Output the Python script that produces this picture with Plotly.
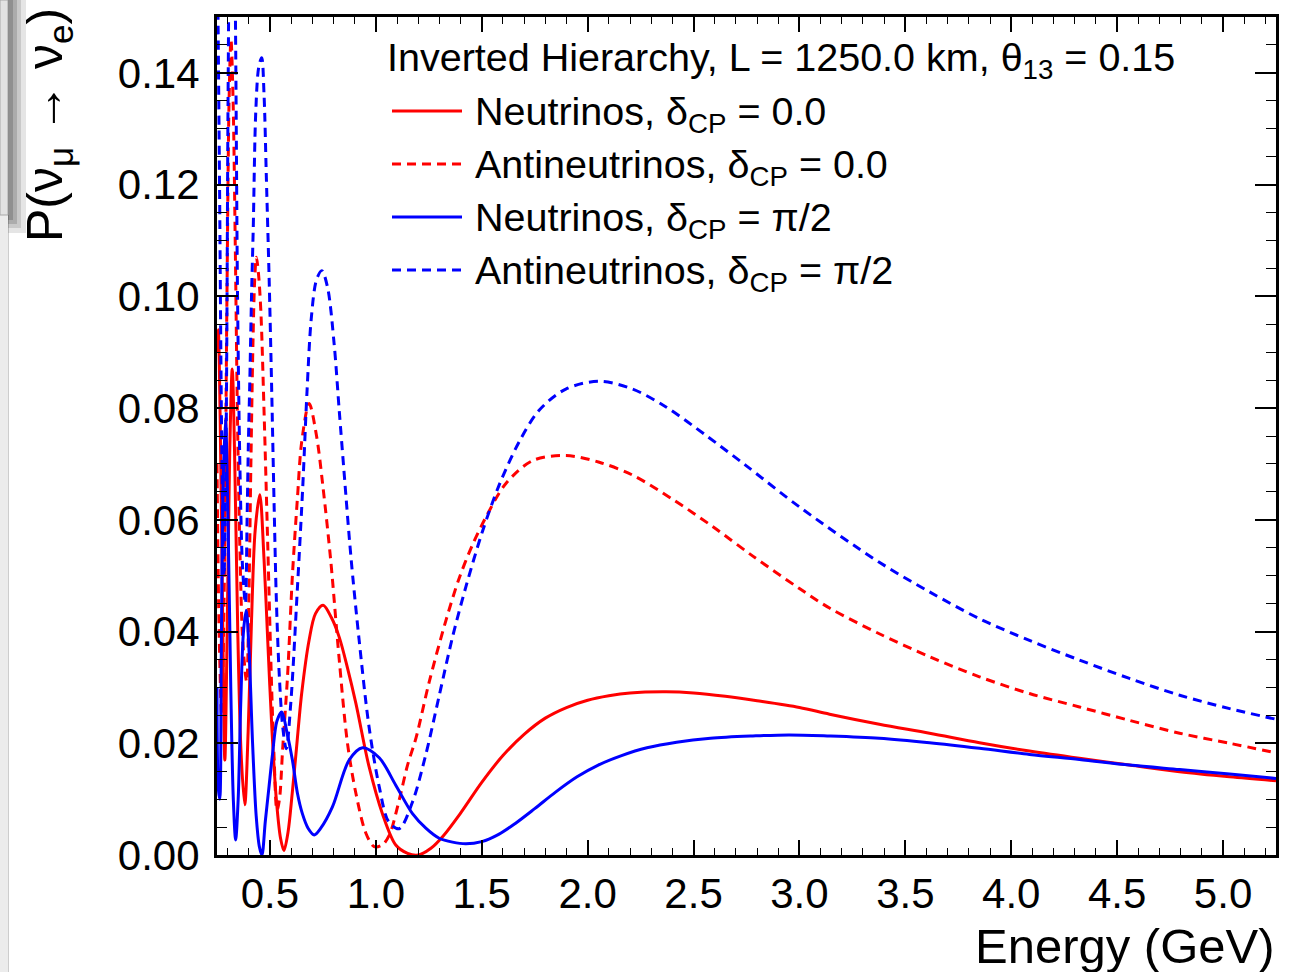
import plotly.graph_objects as go

# ---------------- data ----------------
E_nu0 = [0.250, 0.256, 0.265, 0.276, 0.287, 0.298, 0.310, 0.322, 0.334, 0.348, 0.364, 0.381,
         0.397, 0.413, 0.430, 0.452, 0.472, 0.490, 0.510, 0.530, 0.550, 0.566, 0.585, 0.605,
         0.625, 0.650, 0.685, 0.715, 0.751, 0.790, 0.827, 0.866, 0.906, 0.968, 1.031, 1.094,
         1.150, 1.200, 1.260, 1.320, 1.400, 1.500, 1.600, 1.700, 1.800, 1.900, 2.000, 2.100,
         2.200, 2.370, 2.500, 2.650, 2.800, 3.000, 3.142, 3.377, 3.614, 3.850, 4.086, 4.322,
         4.558, 4.795, 5.031, 5.250]
P_nu0 = [0.090, 0.094, 0.078, 0.045, 0.017, 0.040, 0.072, 0.087, 0.070, 0.040, 0.018, 0.009,
         0.022, 0.042, 0.058, 0.0645, 0.053, 0.038, 0.022, 0.010, 0.003, 0.0008, 0.004, 0.011,
         0.019, 0.029, 0.0385, 0.0432, 0.0447, 0.0425, 0.0390, 0.0335, 0.0271, 0.0158, 0.0074, 0.0018,
         0.0003, 0.0000, 0.0012, 0.0035, 0.0075, 0.0130, 0.0178, 0.0216, 0.0245, 0.0264, 0.0277, 0.0285,
         0.0290, 0.0292, 0.0290, 0.0284, 0.0276, 0.0264, 0.0252, 0.0234, 0.0218, 0.0201, 0.0186, 0.0173,
         0.0161, 0.0149, 0.0140, 0.0133]

E_nu90 = [0.250, 0.256, 0.263, 0.270, 0.278, 0.290, 0.302, 0.315, 0.327, 0.338, 0.350, 0.362,
          0.375, 0.388, 0.402, 0.418, 0.435, 0.450, 0.462, 0.478, 0.495, 0.512, 0.533, 0.556,
          0.580, 0.606, 0.630, 0.653, 0.680, 0.709, 0.740, 0.795, 0.874, 0.937, 1.016, 1.094,
          1.173, 1.236, 1.299, 1.362, 1.425, 1.500, 1.580, 1.660, 1.750, 1.850, 1.950, 2.050,
          2.160, 2.280, 2.420, 2.580, 2.780, 2.950, 3.142, 3.377, 3.614, 3.850, 4.086, 4.322,
          4.558, 4.795, 5.031, 5.250]
P_nu90 = [0.030, 0.012, 0.010, 0.035, 0.065, 0.078, 0.060, 0.030, 0.010, 0.0027, 0.010, 0.027,
          0.040, 0.0438, 0.036, 0.020, 0.007, 0.0015, 0.0000, 0.006, 0.012, 0.018, 0.024, 0.0256,
          0.022, 0.017, 0.011, 0.0074, 0.0048, 0.0036, 0.0048, 0.0086, 0.0170, 0.0192, 0.0174, 0.0125,
          0.0074, 0.0048, 0.0030, 0.0023, 0.0020, 0.0024, 0.0037, 0.0057, 0.0083, 0.0113, 0.0140, 0.0161,
          0.0178, 0.0192, 0.0202, 0.0209, 0.0213, 0.0215, 0.0213, 0.0209, 0.0201, 0.0191, 0.0180, 0.0171,
          0.0161, 0.0153, 0.0145, 0.0137]

E_anu0 = [0.250, 0.260, 0.272, 0.285, 0.297, 0.307, 0.316, 0.326, 0.336, 0.346, 0.358, 0.372,
          0.390, 0.400, 0.410, 0.420, 0.428, 0.436, 0.446, 0.457, 0.472, 0.490, 0.508, 0.520,
          0.533, 0.545, 0.560, 0.583, 0.606, 0.630, 0.650, 0.685, 0.720, 0.750, 0.787, 0.827,
          0.866, 0.906, 0.953, 0.992, 1.030, 1.063, 1.110, 1.149, 1.190, 1.252, 1.331, 1.393,
          1.456, 1.520, 1.614, 1.740, 1.897, 2.055, 2.212, 2.400, 2.590, 2.780, 3.000, 3.142,
          3.377, 3.614, 3.850, 4.086, 4.322, 4.558, 4.795, 5.031, 5.250]
P_anu0 = [0.070, 0.040, 0.025, 0.050, 0.100, 0.135, 0.146, 0.135, 0.110, 0.080, 0.055, 0.038,
          0.031, 0.045, 0.070, 0.092, 0.103, 0.107, 0.104, 0.0974, 0.0796, 0.055, 0.030, 0.017,
          0.008, 0.010, 0.019, 0.032, 0.050, 0.064, 0.074, 0.0808, 0.075, 0.066, 0.0527, 0.035,
          0.020, 0.011, 0.0039, 0.0015, 0.0018, 0.0035, 0.0098, 0.016, 0.021, 0.031, 0.042, 0.0495,
          0.0555, 0.0605, 0.0665, 0.0706, 0.0715, 0.0703, 0.0680, 0.0637, 0.0588, 0.0535, 0.0477, 0.0442,
          0.0396, 0.0355, 0.0319, 0.0289, 0.0265, 0.0241, 0.0218, 0.0200, 0.0183]

E_anu90 = [0.250, 0.262, 0.272, 0.283, 0.293, 0.303, 0.313, 0.325, 0.337, 0.347, 0.358, 0.370,
           0.384, 0.392, 0.398, 0.405, 0.413, 0.421, 0.433, 0.447, 0.461, 0.472, 0.483, 0.496,
           0.507, 0.520, 0.530, 0.543, 0.560, 0.577, 0.598, 0.630, 0.655, 0.675, 0.695, 0.720,
           0.745, 0.772, 0.803, 0.827, 0.850, 0.882, 0.921, 0.968, 1.016, 1.060, 1.110, 1.173,
           1.236, 1.299, 1.362, 1.425, 1.504, 1.582, 1.677, 1.771, 1.897, 2.055, 2.212, 2.370,
           2.559, 2.748, 3.000, 3.377, 3.614, 3.850, 4.086, 4.322, 4.558, 4.795, 5.031, 5.250]
P_anu90 = [0.170, 0.120, 0.075, 0.050, 0.075, 0.140, 0.180, 0.190, 0.150, 0.100, 0.070, 0.052,
           0.045, 0.060, 0.0735, 0.085, 0.100, 0.112, 0.133, 0.141, 0.1427, 0.1362, 0.1213, 0.1034,
           0.0855, 0.062, 0.046, 0.033, 0.023, 0.019, 0.027, 0.048, 0.066, 0.083, 0.096, 0.103,
           0.1046, 0.1016, 0.0915, 0.0796, 0.0685, 0.0535, 0.0385, 0.0229, 0.0122, 0.0060, 0.0047, 0.0095,
           0.0180, 0.0285, 0.0390, 0.0480, 0.0580, 0.0662, 0.0740, 0.0796, 0.0834, 0.0848, 0.0834, 0.0802,
           0.0751, 0.0697, 0.0623, 0.0524, 0.0471, 0.0423, 0.0384, 0.0349, 0.0316, 0.0286, 0.0262, 0.0243]

series_names = ["Neutrinos, δ<sub>CP</sub> = 0.0",
                "Antineutrinos, δ<sub>CP</sub> = 0.0",
                "Neutrinos, δ<sub>CP</sub> = π/2",
                "Antineutrinos, δ<sub>CP</sub> = π/2"]
title_text = "Inverted Hierarchy, L = 1250.0 km, θ<sub>13</sub> = 0.15"
x_ticks = [0.5, 1.0, 1.5, 2.0, 2.5, 3.0, 3.5, 4.0, 4.5, 5.0]
y_ticks = [0.00, 0.02, 0.04, 0.06, 0.08, 0.10, 0.12, 0.14]

# ---------------- styling ----------------
W, H = 1299, 972
L_M, R_M, T_M, B_M = 217, 23, 17, 117
PW, PH = W - L_M - R_M, H - T_M - B_M
FONT = "Liberation Sans, Arial, Helvetica, sans-serif"
RED, BLUE = "#ff0000", "#0000ff"
DASH = "9px,6px"


def px_x(px):
    return (px - L_M) / PW


def px_y(py):
    return (H - B_M - py) / PH


fig = go.Figure()
curves = [(E_nu0, P_nu0, RED, "solid"),
          (E_anu0, P_anu0, RED, DASH),
          (E_nu90, P_nu90, BLUE, "solid"),
          (E_anu90, P_anu90, BLUE, DASH)]
for (xs, ys, col, dash), name in zip(curves, series_names):
    fig.add_trace(go.Scatter(x=xs, y=ys, mode="lines", name=name,
                             line=dict(color=col, width=3, dash=dash, shape="spline", smoothing=0.9),
                             showlegend=False))

axis_common = dict(showline=True, linewidth=3, linecolor="black", mirror="allticks",
                   ticks="inside", tickcolor="black", tickwidth=1.6,
                   showgrid=False, zeroline=False,
                   tickfont=dict(family=FONT, size=42, color="black"))

fig.update_xaxes(range=[0.25, 5.25], tickvals=x_ticks,
                 ticktext=[f"{v:.1f}" for v in x_ticks], ticklen=15,
                 minor=dict(dtick=0.1, ticklen=7, tickwidth=1.4, tickcolor="black", ticks="inside"),
                 ticklabelstandoff=0, **axis_common)
fig.update_yaxes(range=[0.0, 0.15], tickvals=y_ticks,
                 ticktext=[f"{v:.2f}" for v in y_ticks], ticklen=21,
                 minor=dict(dtick=0.005, ticklen=10, tickwidth=1.4, tickcolor="black", ticks="inside"),
                 ticklabelstandoff=6, **axis_common)

annotations = []
shapes = []

# legend header
annotations.append(dict(text=title_text, x=px_x(385), y=px_y(60), xref="paper", yref="paper",
                        xanchor="left", yanchor="middle", showarrow=False,
                        font=dict(family=FONT, size=39.5, color="black")))
legend_rows = [111, 164, 217, 270]
for (xs, ys, col, dash), name, ry in zip(curves, series_names, legend_rows):
    shapes.append(dict(type="line", xref="paper", yref="paper",
                       x0=px_x(392), x1=px_x(462), y0=px_y(ry), y1=px_y(ry),
                       line=dict(color=col, width=3, dash=dash)))
    annotations.append(dict(text=name, x=px_x(473), y=px_y(ry + 3), xref="paper", yref="paper",
                            xanchor="left", yanchor="middle", showarrow=False,
                            font=dict(family=FONT, size=39.5, color="black")))

# axis titles
annotations.append(dict(text="Energy (GeV)", x=px_x(1277), y=px_y(946), xref="paper", yref="paper",
                        xanchor="right", yanchor="middle", showarrow=False,
                        font=dict(family=FONT, size=49, color="black")))
annotations.append(dict(text="P(ν<sub>μ</sub> → ν<sub>e</sub>)", x=px_x(49), y=px_y(6),
                        xref="paper", yref="paper", xanchor="center", yanchor="top",
                        textangle=-90, showarrow=False,
                        font=dict(family=FONT, size=50, color="black")))

# window-edge strip seen at the left of the screenshot
shapes.append(dict(type="rect", xref="paper", yref="paper", x0=px_x(0), x1=px_x(9),
                   y0=px_y(H), y1=px_y(0), fillcolor="#ececec", line=dict(width=0), layer="below"))
shapes.append(dict(type="line", xref="paper", yref="paper", x0=px_x(8.5), x1=px_x(8.5),
                   y0=px_y(H), y1=px_y(0), line=dict(color="#cdcdcd", width=1)))
for w, op in [(18, 0.10), (13, 0.12), (9, 0.14), (5, 0.16)]:
    shapes.append(dict(type="rect", xref="paper", yref="paper", x0=px_x(8), x1=px_x(8 + w),
                       y0=px_y(215 + w), y1=px_y(0), fillcolor="black", opacity=op,
                       line=dict(width=0)))
shapes.append(dict(type="rect", xref="paper", yref="paper", x0=px_x(0), x1=px_x(8),
                   y0=px_y(215), y1=px_y(0), fillcolor="#e2e2e2", line=dict(color="#a8a8a8", width=1)))

fig.update_layout(width=W, height=H, margin=dict(l=L_M, r=R_M, t=T_M, b=B_M),
                  paper_bgcolor="white", plot_bgcolor="white",
                  font=dict(family=FONT, color="black"),
                  annotations=annotations, shapes=shapes, showlegend=False)

fig.write_html("out.html")
